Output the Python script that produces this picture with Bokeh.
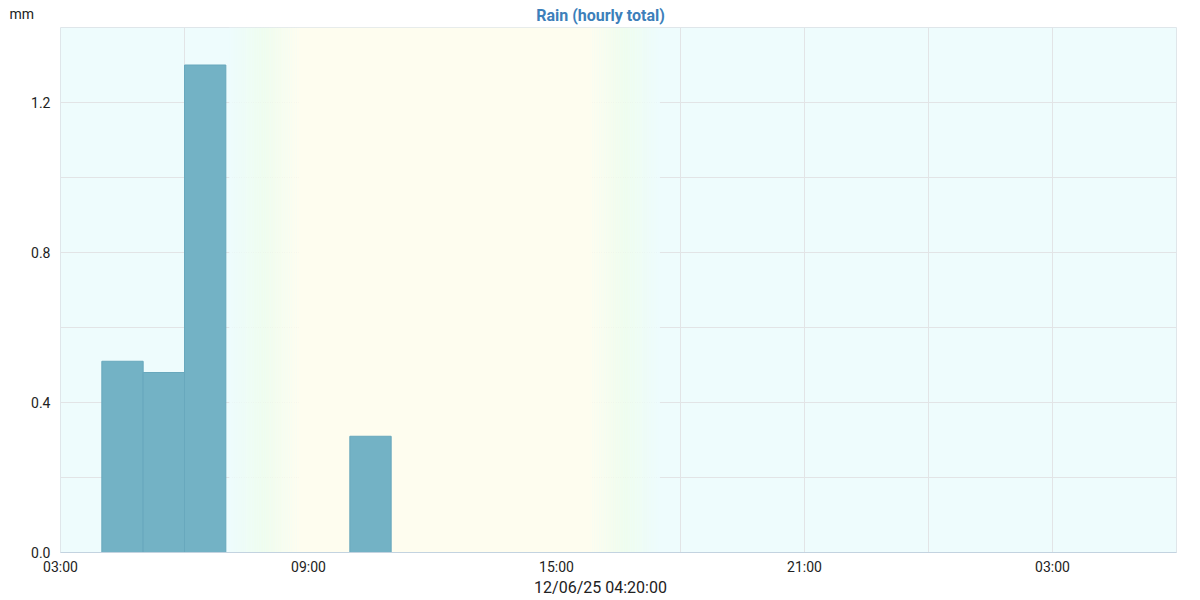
import numpy as np
import pandas as pd
from bokeh.plotting import figure
from bokeh.models import FixedTicker, DatetimeTickFormatter, Range1d, Label, CustomJSTickFormatter
from bokeh.embed import file_html
from bokeh.resources import INLINE

# ---- data ----
bar_starts = ["2025-12-06 04:00", "2025-12-06 05:00", "2025-12-06 06:00", "2025-12-06 07:00",
              "2025-12-06 08:00", "2025-12-06 09:00", "2025-12-06 10:00", "2025-12-06 11:00",
              "2025-12-06 12:00", "2025-12-06 13:00", "2025-12-06 14:00", "2025-12-06 15:00",
              "2025-12-06 16:00", "2025-12-06 17:00", "2025-12-06 18:00", "2025-12-06 19:00",
              "2025-12-06 20:00", "2025-12-06 21:00", "2025-12-06 22:00", "2025-12-06 23:00",
              "2025-12-07 00:00", "2025-12-07 01:00", "2025-12-07 02:00", "2025-12-07 03:00",
              "2025-12-07 04:00"]
rain_mm = [0.51, 0.48, 1.30, 0.0, 0.0, 0.0, 0.31, 0.0, 0.0, 0.0, 0.0, 0.0, 0.0, 0.0, 0.0,
           0.0, 0.0, 0.0, 0.0, 0.0, 0.0, 0.0, 0.0, 0.0, 0.0]
x_start, x_end = "2025-12-06 03:00", "2025-12-07 06:00"
x_tick_times = ["2025-12-06 03:00", "2025-12-06 09:00", "2025-12-06 15:00",
                "2025-12-06 21:00", "2025-12-07 03:00"]
x_grid_times = ["2025-12-06 06:00", "2025-12-06 12:00", "2025-12-06 18:00", "2025-12-07 00:00"]
y_ticks = [0.0, 0.4, 0.8, 1.2]
y_minor = [0.2, 0.6, 1.0]
# daylight transitions (start of twilight, end of twilight)
sunrise = ("2025-12-06 07:05", "2025-12-06 08:45")
sunset = ("2025-12-06 15:50", "2025-12-06 17:30")
x_title = "12/06/25 04:20:00"
title = "Rain (hourly total)"
unit = "mm"

W = 1184
HEAD_H, CHART_H, FOOT_H = 26, 551, 21

def ms(s):
    return pd.Timestamp(s).value / 1e6

starts = [pd.Timestamp(s) for s in bar_starts]
ends = [s + pd.Timedelta(hours=1) for s in starts]

def text_strip(h):
    f = figure(width=W, height=h, output_backend="svg", toolbar_location=None,
               x_axis_type=None, y_axis_type=None,
               x_range=Range1d(0, W), y_range=Range1d(0, h), min_border=0)
    f.outline_line_color = None
    f.grid.visible = False
    f.background_fill_color = "white"
    f.border_fill_color = "white"
    return f

# header: unit + title
head = text_strip(HEAD_H)
head.add_layout(Label(x=9, y=HEAD_H - 13, text=unit, text_baseline="alphabetic",
                      text_font="Roboto", text_font_size="14px", text_color="#222222"))
head.add_layout(Label(x=600, y=HEAD_H - 15, text=title, text_align="center",
                      text_baseline="alphabetic", text_font="Roboto", text_font_size="16px",
                      text_font_style="bold", text_color="#3d7fba"))

# main chart
p = figure(width=W, height=CHART_H, output_backend="svg", toolbar_location=None,
           x_axis_type="datetime",
           x_range=Range1d(pd.Timestamp(x_start), pd.Timestamp(x_end)),
           y_range=Range1d(0, 1.4),
           min_border_left=60, min_border_right=8, min_border_top=1, min_border_bottom=0)
p.background_fill_color = "#eefcfd"
p.border_fill_color = "white"
p.outline_line_color = "#dfe6ea"

# background day / twilight gradient
night = np.array([0xee, 0xfc, 0xfd], float)
twil = np.array([0xef, 0xfd, 0xee], float)
day = np.array([0xfe, 0xfd, 0xef], float)

def hexc(c):
    return "#%02x%02x%02x" % tuple(int(round(v)) for v in c)

def grad(a, b, reverse):
    t0, t1 = pd.Timestamp(a), pd.Timestamp(b)
    n = 40
    edges = [t0 + (t1 - t0) * i / n for i in range(n + 1)]
    cols = []
    for i in range(n):
        f = (i + 0.5) / n
        if reverse:
            f = 1 - f
        if f < 0.5:
            c = night + (twil - night) * (f / 0.5)
        else:
            c = twil + (day - twil) * ((f - 0.5) / 0.5)
        cols.append(hexc(c))
    return edges[:-1], edges[1:], cols

l1, r1, c1 = grad(*sunrise, False)
l2, r2, c2 = grad(*sunset, True)
p.quad(left=l1 + l2, right=r1 + r2, bottom=0, top=1.4, fill_color=c1 + c2, line_color=None)
p.quad(left=[pd.Timestamp(sunrise[1])], right=[pd.Timestamp(sunset[0])], bottom=0, top=1.4,
       fill_color=hexc(day), line_color=None)

# bars
p.quad(left=starts, right=ends, bottom=0, top=rain_mm,
       fill_color="#73b2c5", line_color="#68a8bd", line_width=1)

# axes
p.xaxis.ticker = FixedTicker(ticks=[ms(t) for t in x_tick_times],
                             minor_ticks=[ms(t) for t in x_grid_times])
p.xaxis.formatter = DatetimeTickFormatter(hours="%H:%M", days="%H:%M", hourmin="%H:%M")
p.yaxis.ticker = FixedTicker(ticks=y_ticks, minor_ticks=y_minor)
p.yaxis.formatter = CustomJSTickFormatter(code="return tick.toFixed(1);")

for ax in (p.xaxis, p.yaxis):
    ax.major_tick_line_color = None
    ax.minor_tick_line_color = None
    ax.major_label_text_font = "Roboto"
    ax.major_label_text_font_size = "14px"
    ax.major_label_text_color = "#222222"
p.xaxis.axis_line_color = "#c3d3e0"
p.yaxis.axis_line_color = None
p.xaxis.major_label_standoff = 0
p.yaxis.major_label_standoff = 4

p.xgrid.grid_line_color = "#e2e4e6"
p.xgrid.minor_grid_line_color = "#e2e4e6"
p.ygrid.grid_line_color = "#e2e4e6"
p.ygrid.minor_grid_line_color = "#e2e4e6"

# footer: x axis title
foot = text_strip(FOOT_H)
foot.add_layout(Label(x=600, y=11, text=x_title, text_align="center",
                      text_baseline="alphabetic", text_font="Roboto", text_font_size="16px",
                      text_color="#222222"))

open("out.html", "w").write(file_html([head, p, foot], INLINE))
